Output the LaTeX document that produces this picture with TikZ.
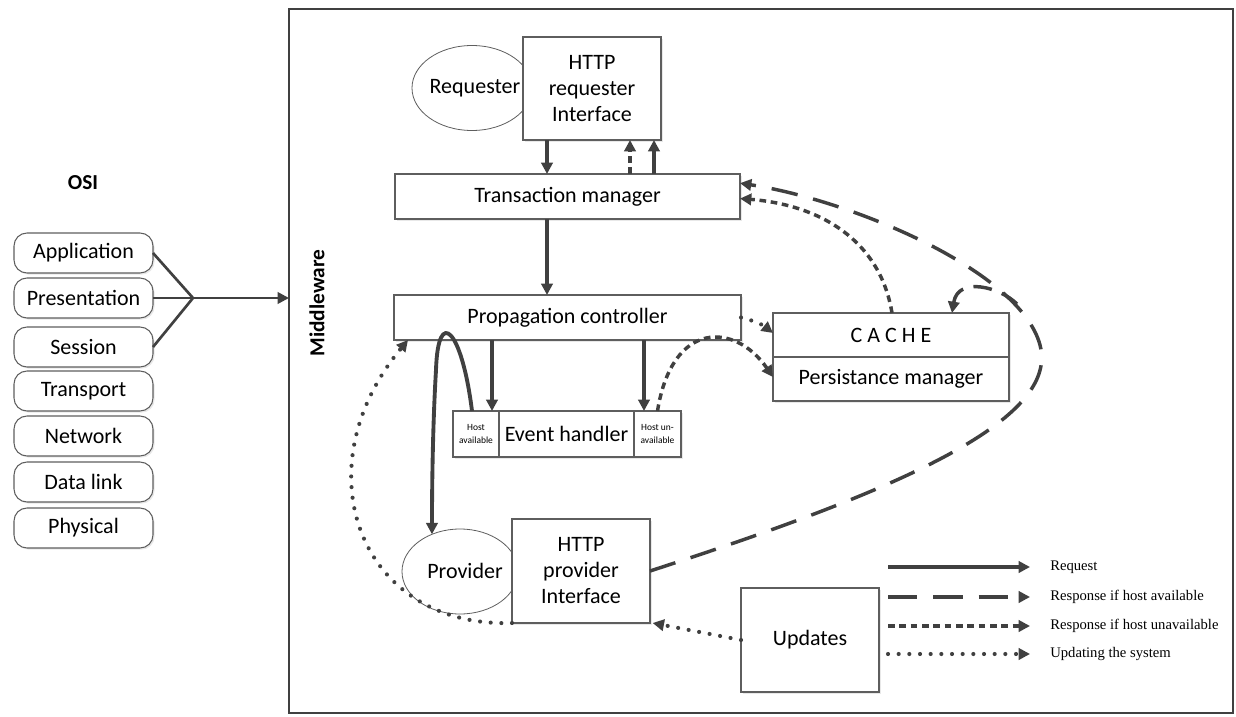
\documentclass[tikz,border=0pt]{standalone}
\usepackage{fontspec}
\setmainfont{Carlito}
\newfontfamily\legfont{Liberation Serif}
\usetikzlibrary{arrows.meta,shapes.geometric,shadows}
\definecolor{ink}{HTML}{404040}
\definecolor{edge}{HTML}{5E5E5E}
\newcommand{\mainsz}{\fontsize{16.5}{19.5}\selectfont}
\newcommand{\tinysz}{\fontsize{7.1}{10.2}\selectfont}
\begin{document}
\begin{tikzpicture}[x=0.75pt,y=-0.75pt,
  box/.style={draw=edge, line width=0.8pt, fill=white, inner sep=0pt, outer sep=0pt,
    align=center, font=\mainsz,
    drop shadow={opacity=0.18, shadow xshift=1.2pt, shadow yshift=-1.2pt}},
  osibox/.style={box, rounded corners=9.75pt, minimum width=104.25pt, minimum height=30pt},
  oval/.style={ellipse, draw=edge, line width=0.6pt, fill=white, inner sep=0pt,
    outer sep=0pt, font=\mainsz},
  tip/.style={-{Triangle[length=8.5pt,width=8.5pt]}},
  reqline/.style={draw=ink, line width=2.9pt, tip},
  availline/.style={draw=ink, line width=2.6pt, dash pattern=on 20pt off 12pt, tip},
  unavline/.style={draw=ink, line width=2.6pt, dash pattern=on 5pt off 3.5pt, tip},
  updline/.style={draw=ink, line width=3.1pt, line cap=round, dash pattern=on 0pt off 8pt, tip},
  legtext/.style={anchor=west, inner sep=0pt, font=\legfont\fontsize{11}{13}\selectfont}
]
\useasboundingbox (0,0) rectangle (1236,717);

% middleware frame
\node[draw=ink, line width=2.2pt, minimum width=708pt, minimum height=528pt,
  inner sep=0pt, outer sep=0pt] (mw) at (761,361) {};
\node[font=\bfseries\fontsize{16}{19}\selectfont, rotate=90] (mwlabel) at (317,303) {Middleware};

% OSI stack
\node[font=\bfseries\fontsize{16}{19}\selectfont] (osi) at (83,183) {OSI};
\node[osibox] (app)  at (83.5,253) {Application};
\node[osibox] (pres) at (83.5,298) {Presentation};
\node[osibox] (ses)  at (83.5,347) {Session};
\node[osibox] (tra)  at (83.5,391) {Transport};
\node[osibox] (net)  at (83.5,436) {Network};
\node[osibox] (dl)   at (83.5,482) {Data link};
\node[osibox] (phy)  at (83.5,528) {Physical};
\coordinate (jn) at (193,298);
\draw[ink, line width=2pt] (app.east) -- (jn) -- (ses.east);
\draw[ink, line width=2pt] (pres.east) -- (jn);
\draw[ink, line width=2pt, tip] (jn) -- (jn -| mw.west);

% requester side
\node[oval, minimum width=90pt, minimum height=63.75pt] (req) at (472,88) {};
\node[font=\mainsz] (reqtxt) at (475,88) {Requester};
\node[box, minimum width=103.5pt, minimum height=77.25pt] (hri) at (592,88.5)
  {HTTP\\requester\\Interface};

\node[box, minimum width=258.75pt, minimum height=33.75pt] (tm) at (567.5,196.5) {Transaction manager};
\node[box, minimum width=260.25pt, minimum height=33.75pt] (pc) at (567.5,317.5) {Propagation controller};

% event handler strip
\node[box, minimum width=34.5pt, minimum height=34.5pt, font=\tinysz] (ha) at (476,434) {Host\\available};
\node[box, minimum width=101.25pt, minimum height=34.5pt] (eh) at (566.5,434) {Event handler};
\node[box, minimum width=35.25pt, minimum height=34.5pt, font=\tinysz] (hu) at (657.5,434) {Host un-\\available};

% cache and persistence
\node[box, minimum width=177pt, minimum height=33pt] (cache) at (891,335) {C A C H E};
\node[box, minimum width=177pt, minimum height=33pt] (pm) at (891,379) {Persistance manager};

% provider side
\node[oval, minimum width=87pt, minimum height=63.75pt] (prov) at (460,571.5) {};
\node[font=\mainsz] (provtxt) at (465,571) {Provider};
\node[box, minimum width=103.5pt, minimum height=78pt] (hpi) at (581,571)
  {HTTP\\provider\\Interface};
\node[box, minimum width=103.5pt, minimum height=78pt] (upd) at (810,640) {Updates};

% column positions of the vertical arrows
\coordinate (c547) at (547,0);
\coordinate (c630) at (630,0);
\coordinate (c654) at (654,0);
\coordinate (c492) at (492,0);
\coordinate (c644) at (644,0);

% requests
\draw[reqline] (c547 |- hri.south) -- (c547 |- tm.north);
\draw[unavline] (c630 |- tm.north) -- (c630 |- hri.south);
\draw[reqline] (c654 |- tm.north) -- (c654 |- hri.south);
\draw[reqline] (c547 |- tm.south) -- (c547 |- pc.north);
\draw[reqline] (c492 |- pc.south) -- (c492 |- ha.north);
\draw[reqline] (c644 |- pc.south) -- (c644 |- hu.north);
\draw[reqline] ([xshift=-3pt]ha.north) .. controls (462,330) and (438,305) .. (436,370)
  .. controls (433,420) and (432,480) .. (prov.127);

% response if host available
\draw[availline] (hpi.east) .. controls (900,490) and (1060,420) .. (1040,345)
  .. controls (1020,270) and (850,200) .. ([yshift=10pt]tm.east);
\coordinate (brk) at (1017,304);
\draw[availline, dash pattern=on 14pt off 8pt] (brk) .. controls (1000,287) and (958,276) .. ([xshift=45.75pt]cache.north);

% response if host unavailable
\draw[unavline] (hu.north) .. controls (672,320) and (735,322) .. ([yshift=1.5pt]pm.west);
\draw[unavline] ([xshift=0.75pt]cache.north) .. controls (880,240) and (820,205) .. ([yshift=-1.5pt]tm.east);

% updating the system
\draw[updline] (pc.east) to[bend left=12] ([yshift=1.5pt]cache.west);
\draw[updline] (upd.west) -- ([xshift=2pt]hpi.south east);
\draw[updline] (hpi.south west) .. controls (360,628) and (300,470) .. ([xshift=10.5pt]pc.south west);

% legend
\node[legtext] (lg1) at (1050,567) {Request};
\node[legtext] (lg2) at (1050,597) {Response if host available};
\node[legtext] (lg3) at (1050,626) {Response if host unavailable};
\node[legtext] (lg4) at (1050,654) {Updating the system};
\coordinate (ls1) at (888,567); \coordinate (le1) at (1030,567);
\coordinate (ls2) at (888,597); \coordinate (le2) at (1030,597);
\coordinate (ls3) at (888,626); \coordinate (le3) at (1030,626);
\coordinate (ls4) at (888,654); \coordinate (le4) at (1030,654);
\draw[reqline] (ls1) -- (le1);
\draw[availline, dash pattern=on 22pt off 12pt] (ls2) -- (le2);
\draw[unavline] (ls3) -- (le3);
\draw[updline] (ls4) -- (le4);
\end{tikzpicture}
\end{document}
